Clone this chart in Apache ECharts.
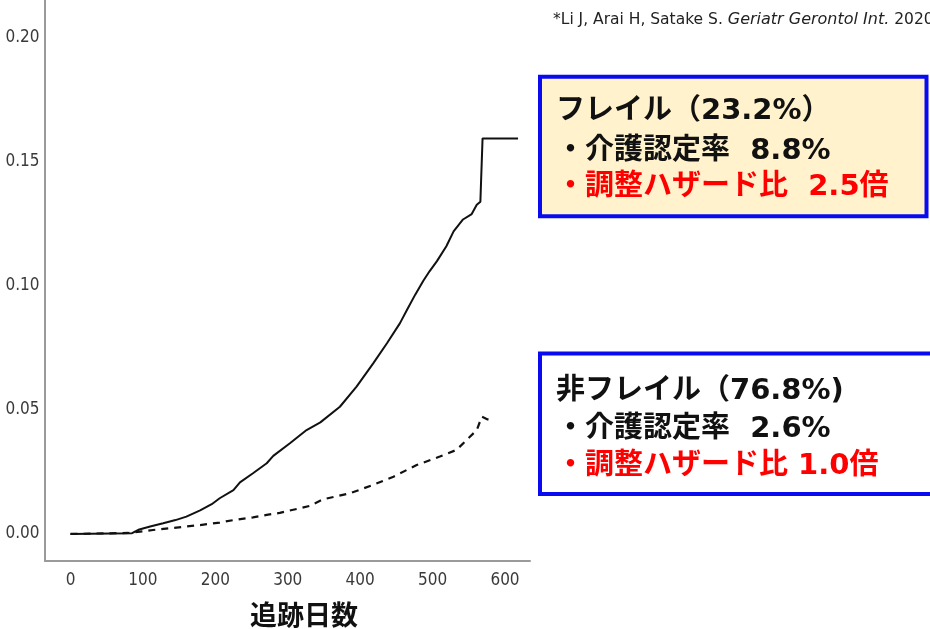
<!DOCTYPE html>
<html>
<head>
<meta charset="utf-8">
<script src="https://cdn.jsdelivr.net/npm/echarts@6/dist/echarts.min.js"></script>
<style>
  html, body { margin: 0; padding: 0; background: #fff; }
  #chart { width: 930px; height: 629px; }
</style>
</head>
<body>
<div id="chart"></div>
<script>
// Cumulative incidence of long-term care certification by follow-up day
const dayTicks = [0, 100, 200, 300, 400, 500, 600];
const rateTicks = [0, 0.05, 0.10, 0.15, 0.20];

// フレイル群 (solid curve)
const frailDays = [0, 85, 95, 110, 128, 145, 160, 179, 195, 206, 225, 234, 252, 271, 280, 303, 326, 345,
  372, 395, 418, 437, 455, 464, 476, 487, 496, 506, 519, 529, 542, 554, 561, 566, 567, 569, 618];
const frailRate = [0, 0.0003, 0.0018, 0.0030, 0.0043, 0.0056, 0.0070, 0.0095, 0.0120, 0.0144, 0.0177, 0.0208,
  0.0245, 0.0285, 0.0315, 0.0366, 0.0419, 0.0450, 0.0513, 0.0594, 0.0688, 0.0769, 0.0850, 0.0900, 0.0965,
  0.1020, 0.1060, 0.1100, 0.1160, 0.1220, 0.1268, 0.1290, 0.1327, 0.1340, 0.1427, 0.1595, 0.1595];

// 非フレイル群 (dashed curve)
const robustDays = [0, 80, 114, 160, 179, 206, 225, 252, 271, 289, 317, 330, 349, 386, 418, 446, 478, 510,
  533, 547, 561, 568, 576, 584];
const robustRate = [0, 0.0004, 0.0016, 0.0030, 0.0036, 0.0046, 0.0056, 0.0067, 0.0077, 0.0085, 0.0104,
  0.0113, 0.0140, 0.0164, 0.0198, 0.0231, 0.0278, 0.0312, 0.0339, 0.0379, 0.0419, 0.0473, 0.0462, 0.0460];

const frailLines = ['フレイル（23.2%）', '・介護認定率  8.8%', '・調整ハザード比  2.5倍'];
const robustLines = ['非フレイル（76.8%)', '・介護認定率  2.6%', '・調整ハザード比 1.0倍'];
const xTitle = '追跡日数';

const pairs = (xs, ys) => xs.map((x, i) => [x, ys[i]]);

const tickFont = "'Liberation Sans Narrow', 'DejaVu Sans Condensed', sans-serif";
const boxFont = "'DejaVu Sans', 'Noto Sans CJK JP', sans-serif";

const chart = echarts.init(document.getElementById('chart'), null, { renderer: 'canvas' });

function boxText(lines, x, ys) {
  return lines.map((t, i) => ({
    type: 'text',
    x: x,
    y: ys[i],
    z: 10,
    style: {
      text: t,
      font: 'bold 29px ' + boxFont,
      fill: i === 2 ? '#ff0000' : '#111111',
      textVerticalAlign: 'middle',
      textAlign: 'left'
    }
  }));
}

// Frame axes: the plotting area runs a little past 0 and 600 days, and below 0.00
const frameX = { min: -35.2, max: 634.5 };
const frameY = { min: -0.0109, max: 0.2153 };

chart.setOption({
  animation: false,
  backgroundColor: '#ffffff',
  title: [{
    text: xTitle,
    left: 299,
    top: 596,
    textAlign: 'center',
    textStyle: { fontFamily: "'Noto Sans CJK JP', sans-serif", fontWeight: 'bold', fontSize: 27, color: '#111' }
  }, {
    text: '{n|*Li J, Arai H, Satake S. }{i|Geriatr Gerontol Int.}{n| 2020}',
    left: 548,
    top: 7,
    textStyle: {
      fontWeight: 'normal',
      rich: {
        n: { fontFamily: 'DejaVu Sans', fontWeight: 'normal', fontSize: 15.5, color: '#222' },
        i: { fontFamily: 'DejaVu Sans', fontWeight: 'normal', fontStyle: 'italic', fontSize: 16, color: '#222' }
      }
    }
  }],
  grid: [
    { left: 70.5, right: 425, top: 38, bottom: 95 },
    { left: 45, right: 400, top: 0, bottom: 68 }
  ],
  xAxis: [{
    gridIndex: 0,
    type: 'value',
    min: dayTicks[0],
    max: dayTicks[dayTicks.length - 1],
    interval: 100,
    axisLine: { show: false },
    axisTick: { show: false },
    splitLine: { show: false },
    axisLabel: { margin: 38, fontSize: 17, fontFamily: tickFont, color: '#3a3a3a' }
  }, {
    gridIndex: 1,
    type: 'value',
    min: frameX.min,
    max: frameX.max,
    axisLine: { show: true, onZero: false, lineStyle: { color: '#9a9a9a', width: 2 } },
    axisTick: { show: false },
    axisLabel: { show: false },
    splitLine: { show: false }
  }],
  yAxis: [{
    gridIndex: 0,
    type: 'value',
    min: rateTicks[0],
    max: rateTicks[rateTicks.length - 1],
    interval: 0.05,
    axisLine: { show: false },
    axisTick: { show: false },
    splitLine: { show: false },
    axisLabel: {
      margin: 31, fontSize: 17, fontFamily: tickFont, color: '#3a3a3a',
      formatter: v => v.toFixed(2)
    }
  }, {
    gridIndex: 1,
    type: 'value',
    min: frameY.min,
    max: frameY.max,
    axisLine: { show: true, onZero: false, lineStyle: { color: '#9a9a9a', width: 2 } },
    axisTick: { show: false },
    axisLabel: { show: false },
    splitLine: { show: false }
  }],
  series: [{
    name: 'フレイル',
    type: 'line',
    xAxisIndex: 1,
    yAxisIndex: 1,
    data: pairs(frailDays, frailRate),
    showSymbol: false,
    lineStyle: { color: '#111', width: 2 }
  }, {
    name: '非フレイル',
    type: 'line',
    xAxisIndex: 1,
    yAxisIndex: 1,
    data: pairs(robustDays, robustRate),
    showSymbol: false,
    lineStyle: { color: '#111', width: 2.2, type: [7, 6] }
  }],
  graphic: [
    {
      type: 'rect',
      shape: { x: 540, y: 76.7, width: 386.5, height: 139.6 },
      style: { fill: '#fff2cc', stroke: '#0a0af0', lineWidth: 4 },
      z: 5
    },
    {
      type: 'rect',
      shape: { x: 540, y: 353.5, width: 395, height: 140.5 },
      style: { fill: '#ffffff', stroke: '#0a0af0', lineWidth: 4 },
      z: 5
    },
    ...boxText(frailLines, 556, [111, 151, 187]),
    ...boxText(robustLines, 556, [391, 429, 466])
  ]
});
</script>
</body>
</html>
